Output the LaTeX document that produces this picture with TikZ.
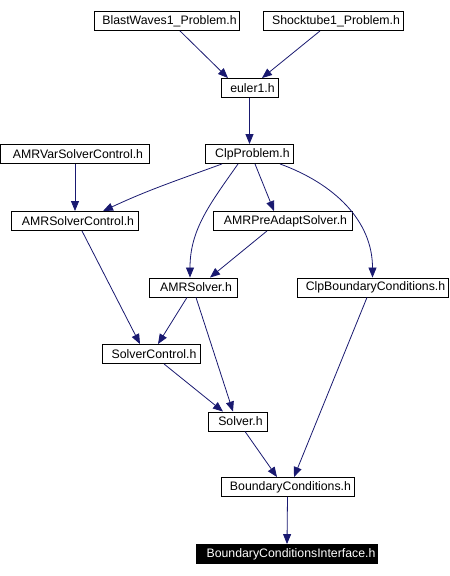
\documentclass[tikz,border=0pt]{standalone}
\usepackage{fontspec}
\setmainfont{Liberation Sans}
\usetikzlibrary{arrows.meta}
\definecolor{edgeblue}{HTML}{191970}

\begin{document}
\begin{tikzpicture}[x=1pt,y=-1pt,
    box/.style={draw=black,line width=0.9pt,fill=white,minimum height=19pt,inner sep=0pt,
        font=\fontsize{12.3}{14}\selectfont},
    edge/.style={draw=edgeblue,line width=0.8pt,-{Triangle[length=10pt,width=8pt]}}]
                \useasboundingbox (0,0) rectangle (450,576);
                
                \foreach \n/\x/\y/\w/\t in {blast/166.5/21/145/BlastWaves1\_Problem.h,
                    shock/333/21/140/Shocktube1\_Problem.h, euler/249.5/88/57/euler1.h,
                    clpprob/249.5/154/88/ClpProblem.h, amrvar/75/154/149/AMRVarSolverControl.h,
                    amrctrl/75/221/127/AMRSolverControl.h, amrpre/282.5/221/139/AMRPreAdaptSolver.h,
                    amrsolver/193/287.5/88/AMRSolver.h, clpbc/372.5/287.5/151/ClpBoundaryConditions.h,
                    solverctrl/151/354/98/SolverControl.h, solver/237.5/421.5/59/Solver.h,
                    bc/287.5/487/133/BoundaryConditions.h} {
                    \node[box,minimum width=\w pt] (\n) at (\x,\y) {\hspace*{6pt}\t};
                }
                \node[box,minimum width=181pt,fill=black,text=white] (bci) at (287,554) {\hspace*{8pt}BoundaryConditionsInterface.h};
                
                % straight includes
                \foreach \a/\sa/\b/\sb in {blast/13.5/euler/-21.5, shock/-13/euler/12.5,
                    euler/0/clpprob/0, amrvar/0/amrctrl/0, clpprob/5.5/amrpre/-8.5,
                    amrpre/-15.5/amrsolver/17, amrctrl/7/solverctrl/-11,
                    amrsolver/-6/solverctrl/7, amrsolver/3/solver/-4.5,
                    solverctrl/13/solver/-14.5, solver/7.5/bc/-10.5,
                    clpbc/-5.5/bc/6.5, bc/0/bci/0} {
                    \draw[edge] ([xshift=\sa pt]\a.south) -- ([xshift=\sb pt]\b.north);
                }
                
                % curved includes
                \draw[edge] ([xshift=-27.5pt]clpprob.south) to[out=-160,in=25] ([xshift=28pt]amrctrl.north);
                \draw[edge] ([xshift=-11.5pt]clpprob.south) to[out=-125,in=90] ([xshift=-3pt]amrsolver.north);
                \draw[edge] ([xshift=30.5pt]clpprob.south) to[out=-20,in=90] (clpbc.north);
            \end{tikzpicture}
\end{document}
